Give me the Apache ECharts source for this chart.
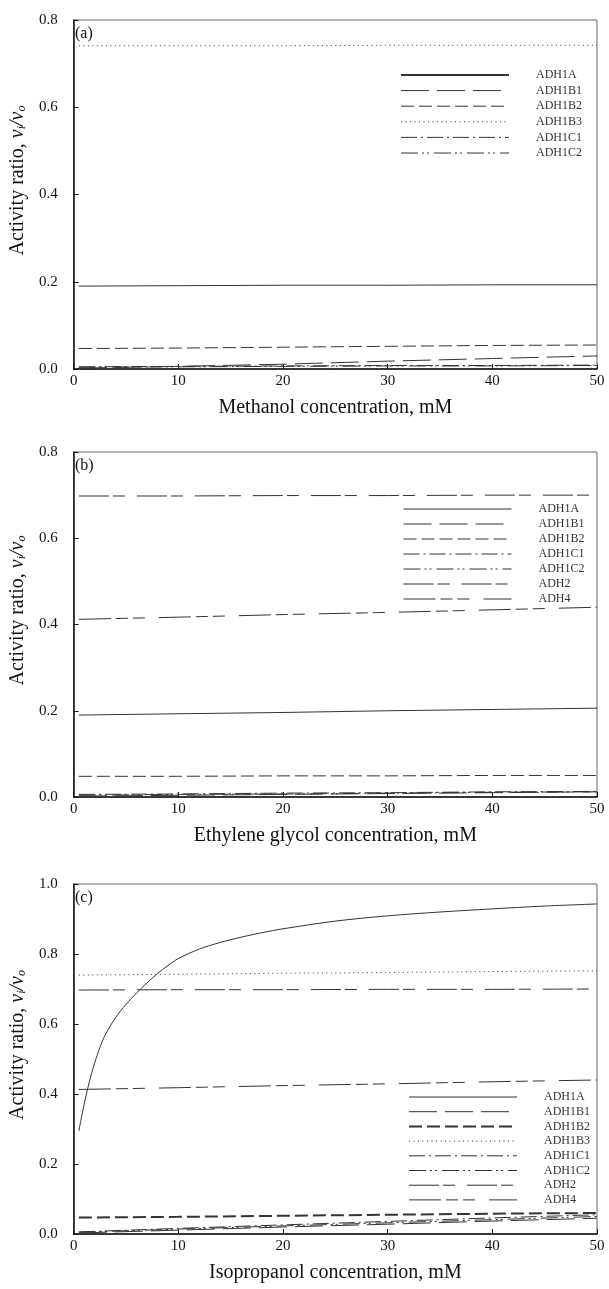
<!DOCTYPE html>
<html>
<head>
<meta charset="utf-8">
<script src="https://cdn.jsdelivr.net/npm/echarts@6/dist/echarts.min.js"></script>
<style>
  html, body { margin: 0; background: #fff; }
  #chart { width: 609px; height: 1289px; }
</style>
</head>
<body>
<div id="chart"></div>
<script>
// concentrations (mM) used for the nearly straight lines
const concSteps = [0.5, 10, 20, 30, 40, 50];

// (a) methanol
const methADH1A = [0.190, 0.191, 0.192, 0.192, 0.193, 0.193];
const methADH1B1 = [0.002, 0.006, 0.011, 0.018, 0.024, 0.030];
const methADH1B2 = [0.047, 0.048, 0.050, 0.052, 0.054, 0.055];
const methADH1B3 = [0.741, 0.741, 0.741, 0.742, 0.742, 0.742];
const methADH1C1 = [0.005, 0.006, 0.007, 0.008, 0.008, 0.009];
const methADH1C2 = [0.004, 0.005, 0.006, 0.007, 0.007, 0.008];

// (b) ethylene glycol
const egADH1A = [0.190, 0.193, 0.196, 0.200, 0.203, 0.206];
const egADH1B1 = [0.002, 0.004, 0.006, 0.008, 0.010, 0.012];
const egADH1B2 = [0.048, 0.048, 0.049, 0.049, 0.050, 0.050];
const egADH1C1 = [0.006, 0.007, 0.009, 0.010, 0.012, 0.013];
const egADH1C2 = [0.004, 0.006, 0.007, 0.009, 0.011, 0.012];
const egADH2 = [0.698, 0.698, 0.699, 0.699, 0.700, 0.700];
const egADH4 = [0.412, 0.417, 0.423, 0.428, 0.434, 0.440];

// (c) isopropanol
const isoCurveX = [0.5, 1, 1.5, 2, 2.5, 3, 4, 5, 6, 7, 8, 9, 10, 12, 14, 16, 18, 20, 25, 30, 35, 40, 45, 50];
const isoADH1A = [0.295, 0.37, 0.435, 0.488, 0.532, 0.568, 0.618, 0.656, 0.688, 0.717, 0.744, 0.767, 0.787, 0.814,
  0.833, 0.848, 0.861, 0.872, 0.894, 0.909, 0.92, 0.929, 0.937, 0.943];
const isoADH1B1 = [0.003, 0.011, 0.020, 0.028, 0.037, 0.045];
const isoADH1B2 = [0.047, 0.049, 0.052, 0.055, 0.058, 0.060];
const isoADH1B3 = [0.740, 0.742, 0.745, 0.747, 0.750, 0.752];
const isoADH1C1 = [0.006, 0.016, 0.026, 0.036, 0.046, 0.055];
const isoADH1C2 = [0.005, 0.014, 0.023, 0.032, 0.041, 0.050];
const isoADH2 = [0.697, 0.698, 0.698, 0.699, 0.699, 0.700];
const isoADH4 = [0.413, 0.418, 0.424, 0.429, 0.435, 0.440];

const xTitles = ["Methanol concentration, mM", "Ethylene glycol concentration, mM", "Isopropanol concentration, mM"];
const panelTags = ["(a)", "(b)", "(c)"];
const yMax = [0.8, 0.8, 1.0];

const font = "Liberation Serif";
const ink = "#333";

const dashes = {
  ADH1A: "solid",
  ADH1B1: [28, 8],
  ADH1B2: [13, 5],
  ADH1B3: [1, 3.5],
  ADH1C1: [16, 4, 2, 4],
  ADH1C2: [17, 4, 2, 3, 2, 5],
  ADH2: [30, 4, 12, 12],
  ADH4: [32, 5, 12, 5, 12, 14],
};

const pairs = (xs, ys) => xs.map((x, i) => [x, ys[i]]);

function line(panel, name, xs, ys, width) {
  const idx = panel === "a" ? 0 : panel === "b" ? 1 : 2;
  return {
    name: panel + ":" + name,
    type: "line",
    xAxisIndex: idx,
    yAxisIndex: idx,
    data: pairs(xs, ys),
    symbol: "none",
    smooth: xs.length > 6 ? 0.3 : false,
    lineStyle: { color: ink, width: width || 1, type: dashes[name] },
    itemStyle: { color: ink },
  };
}

const series = [
  line("a", "ADH1A", concSteps, methADH1A),
  line("a", "ADH1B1", concSteps, methADH1B1),
  line("a", "ADH1B2", concSteps, methADH1B2),
  line("a", "ADH1B3", concSteps, methADH1B3),
  line("a", "ADH1C1", concSteps, methADH1C1),
  line("a", "ADH1C2", concSteps, methADH1C2),

  line("b", "ADH1A", concSteps, egADH1A),
  line("b", "ADH1B1", concSteps, egADH1B1),
  line("b", "ADH1B2", concSteps, egADH1B2),
  line("b", "ADH1C1", concSteps, egADH1C1),
  line("b", "ADH1C2", concSteps, egADH1C2),
  line("b", "ADH2", concSteps, egADH2),
  line("b", "ADH4", concSteps, egADH4),

  line("c", "ADH1A", isoCurveX, isoADH1A),
  line("c", "ADH1B1", concSteps, isoADH1B1),
  line("c", "ADH1B2", concSteps, isoADH1B2, 2),
  line("c", "ADH1B3", concSteps, isoADH1B3),
  line("c", "ADH1C1", concSteps, isoADH1C1),
  line("c", "ADH1C2", concSteps, isoADH1C2),
  line("c", "ADH2", concSteps, isoADH2),
  line("c", "ADH4", concSteps, isoADH4),
];

const grids = [
  { left: 71, width: 526, top: 20, height: 349 },
  { left: 71, width: 526, top: 452, height: 345 },
  { left: 71, width: 526, top: 884, height: 350 },
].map((g) => ({ ...g, show: true, borderColor: "#666", borderWidth: 1 }));

const axisLine = { show: true, lineStyle: { color: "#111", width: 1.5 } };
const axisTick = { show: true, inside: true, length: 5, lineStyle: { color: "#111" } };

const xAxes = xTitles.map((title, i) => ({
  type: "value",
  gridIndex: i,
  min: 0,
  max: 50,
  interval: 10,
  axisLine,
  axisTick,
  splitLine: { show: false },
  axisLabel: { fontFamily: font, fontSize: 15, color: "#111", margin: 5 },
  name: title,
  nameLocation: "middle",
  nameGap: 29,
  nameTextStyle: { fontFamily: font, fontSize: 20, color: "#111" },
}));

const yAxes = yMax.map((max, i) => ({
  type: "value",
  gridIndex: i,
  min: 0,
  max: max,
  interval: 0.2,
  axisLine,
  axisTick,
  splitLine: { show: false },
  axisLabel: { fontFamily: font, fontSize: 15, color: "#111", margin: 16, formatter: (v) => v.toFixed(1) },
  name: "Activity ratio, {it|v}{sub|i}{it|/v}{sub|o}",
  nameLocation: "middle",
  nameRotate: 90,
  nameGap: 36,
  nameTextStyle: {
    fontFamily: font,
    fontSize: 20,
    color: "#111",
    padding: [0, 0, 0, 28],
    rich: {
      it: { fontFamily: font, fontSize: 20, fontStyle: "italic", color: "#111" },
      sub: { fontFamily: font, fontSize: 12, fontStyle: "italic", color: "#111", verticalAlign: "bottom", lineHeight: 12 },
    },
  },
}));

function legend(panel, names, left, top, gap) {
  return {
    orient: "vertical",
    left: left,
    top: top,
    itemWidth: 108,
    itemHeight: 12,
    itemGap: gap,
    data: names.map((n) => panel + ":" + n),
    formatter: (name) => name.split(":")[1],
    // hide the marker ECharts puts in the middle of a line icon
    itemStyle: { color: "rgba(0,0,0,0)", borderColor: "rgba(0,0,0,0)", borderWidth: 0, opacity: 0 },
    lineStyle: { width: 1 },
    textStyle: { fontFamily: font, fontSize: 12, color: "#333", padding: [0, 0, 0, 22] },
    selectedMode: false,
  };
}

const legends = [
  legend("a", ["ADH1A", "ADH1B1", "ADH1B2", "ADH1B3", "ADH1C1", "ADH1C2"], 395, 64, 3.6),
  legend("b", ["ADH1A", "ADH1B1", "ADH1B2", "ADH1C1", "ADH1C2", "ADH2", "ADH4"], 398, 498, 3),
  legend("c", ["ADH1A", "ADH1B1", "ADH1B2", "ADH1B3", "ADH1C1", "ADH1C2", "ADH2", "ADH4"], 403, 1086, 2.7),
];
// a couple of legend icons are drawn heavier in the original
legends[0].data[0] = { name: "a:ADH1A", lineStyle: { width: 2 } };
legends[2].data[2] = { name: "c:ADH1B2", lineStyle: { width: 2 } };

const tagTops = [26, 458, 890];
const graphic = panelTags.map((t, i) => ({
  type: "text",
  left: 75,
  top: tagTops[i],
  style: { text: t, font: "16px " + font, fill: "#111" },
}));

const chart = echarts.init(document.getElementById("chart"));
chart.setOption({
  animation: false,
  backgroundColor: "#fff",
  grid: grids,
  xAxis: xAxes,
  yAxis: yAxes,
  legend: legends,
  graphic: graphic,
  series: series,
});
</script>
</body>
</html>
